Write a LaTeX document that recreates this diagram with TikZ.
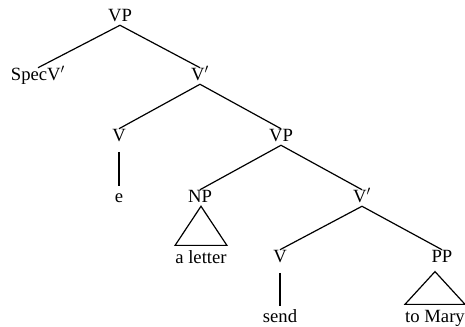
\documentclass[tikz,border=0pt]{standalone}
\usepackage{fontspec}
\setmainfont{Liberation Serif}

\begin{document}
\begin{tikzpicture}[x=0.75pt,y=-0.75pt]

\tikzset{cat/.style = {inner sep=0pt, text height=9.5pt, text depth=2.5pt, font=\fontsize{14}{16}\selectfont}}
\tikzset{branch/.style = {line width=0.9pt}}
\tikzset{unary/.style = {branch, shorten <=5pt, shorten >=3pt}}
\useasboundingbox (0,0) rectangle (465,327);
%categories
\node[cat] (vp1) at (120,17) {VP};
\node[cat] (spec) at (38,76) {SpecV$'$};
\node[cat] (vbar1) at (200,76) {V$'$};
\node[cat] (v1) at (119,137) {V};
\node[cat] (e) at (119,198) {e};
\node[cat] (vp2) at (281,137) {VP};
\node[cat] (np) at (200,198) {NP};
\node[cat] (vbar2) at (362,198) {V$'$};
\node[cat] (al) at (201,259) {a letter};
\node[cat] (v2) at (280,258) {V};
\node[cat] (pp) at (442,258) {PP};
\node[cat] (send) at (280,318) {send};
\node[cat] (tm) at (435,318) {to Mary};
%branches
\draw[branch] (vp1.south) -- (spec.north);
\draw[branch] (vp1.south) -- (vbar1.north);
\draw[branch] (vbar1.south) -- (v1.north);
\draw[branch] (vbar1.south) -- (vp2.north);
\draw[unary] (v1) -- (e);
\draw[branch] (vp2.south) -- (np.north);
\draw[branch] (vp2.south) -- (vbar2.north);
\draw[branch] (vbar2.south) -- (v2.north);
\draw[branch] (vbar2.south) -- (pp.north);
\draw[unary] (v2) -- (send);
%triangles
\draw[branch] (np.south -| al.north) -- ([yshift=4pt]al.north west) -- ([yshift=4pt]al.north east) -- cycle;
\draw[branch] ([yshift=-4pt]pp.south -| tm.north) -- ([yshift=4pt]tm.north west) -- ([yshift=4pt]tm.north east) -- cycle;

\end{tikzpicture}
\end{document}
